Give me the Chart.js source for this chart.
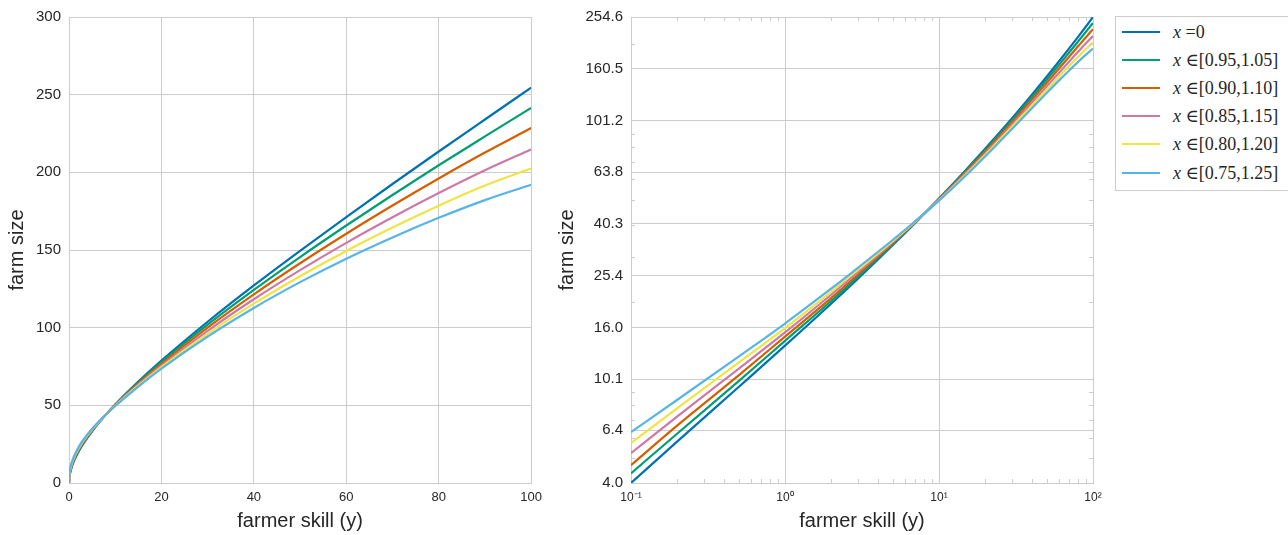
<!DOCTYPE html>
<html>
<head>
<meta charset="utf-8">
<script src="https://cdn.jsdelivr.net/npm/chart.js@4.4.0/dist/chart.umd.min.js"></script>
<style>
html,body{margin:0;padding:0;background:#fff;width:1288px;height:535px;overflow:hidden;position:relative}
#c1{position:absolute;left:0;top:0}
#c2{position:absolute;left:545px;top:0}
#legend{position:absolute;left:1115px;top:16px;width:200px;height:175px;border:1px solid #cccccc;background:#fff;box-sizing:border-box;font-family:"Liberation Serif","DejaVu Serif",serif;font-size:18px;color:#262626}
#legend .row{position:absolute;left:0;height:20px;width:200px}
#legend .swatch{position:absolute;left:6px;top:9px;width:38px;height:2px}
#legend .txt{position:absolute;left:57px;top:0;line-height:20px;white-space:nowrap}
</style>
</head>
<body>
<canvas id="c1" width="549" height="535"></canvas>
<canvas id="c2" width="565" height="535"></canvas>
<div id="legend"></div>
<script>
// ---------- data ----------
const skill   = [0, 0.1, 0.2, 0.5, 1, 2, 3, 5, 7, 10, 15, 20, 30, 40, 50, 60, 70, 80, 90, 100];
const sizeX0  = [0, 4.0, 5.80, 9.41, 13.6, 19.80, 24.82, 33.28, 40.62, 50.5, 65.27, 78.8, 103.8, 127.2, 149.5, 171.2, 192.5, 213.4, 234.0, 254.5];
const size095 = [0, 4.36, 6.22, 9.91, 14.2, 20.31, 25.28, 33.58, 40.73, 50.32, 64.66, 77.78, 101.92, 124.31, 145.43, 165.75, 185.43, 204.54, 223.11, 241.5];
const size090 = [0, 4.69, 6.68, 10.43, 14.75, 20.84, 25.76, 33.88, 40.85, 50.14, 64.05, 76.78, 100.08, 121.48, 141.48, 160.47, 178.62, 196.04, 212.73, 228.5];
const size085 = [0, 5.22, 7.24, 11.07, 15.3, 21.46, 26.31, 34.24, 40.99, 49.93, 63.35, 75.64, 97.99, 118.29, 137.03, 154.58, 171.05, 186.65, 201.31, 214.7];
const size080 = [0, 5.71, 7.80, 11.69, 15.9, 22.05, 26.83, 34.56, 41.11, 49.75, 62.72, 74.61, 96.13, 115.46, 133.11, 149.40, 164.45, 178.50, 191.47, 202.5];
const size075 = [0, 6.3, 8.40, 12.34, 16.57, 22.65, 27.36, 34.89, 41.23, 49.56, 62.1, 73.6, 94.3, 112.7, 129.3, 144.4, 158.1, 170.7, 182.1, 192.0];

const seriesLabels = ['x =0', 'x ∈[0.95,1.05]', 'x ∈[0.90,1.10]', 'x ∈[0.85,1.15]', 'x ∈[0.80,1.20]', 'x ∈[0.75,1.25]'];
const seriesValues = [sizeX0, size095, size090, size085, size080, size075];
const seriesColors = ['#0072B2', '#009E73', '#D55E00', '#CC79A7', '#F0E442', '#56B4E9'];

// tick labels
const linXTicks = [0, 20, 40, 60, 80, 100];
const linYTicks = [0, 50, 100, 150, 200, 250, 300];
const logXTicks = [0.1, 1, 10, 100];
const logXLabels = ['10⁻¹', '10⁰', '10¹', '10²'];
const logYLabels = ['4.0', '6.4', '10.1', '16.0', '25.4', '40.3', '63.8', '101.2', '160.5', '254.6'];
const logYTicks = logYLabels.map(Number);
const logXMinor = [0.2,0.3,0.4,0.5,0.6,0.7,0.8,0.9,2,3,4,5,6,7,8,9,20,30,40,50,60,70,80,90];
const logYMinor = [5,6,7,8,9,20,30,40,50,60,70,80,90,200];

const xTitle = 'farmer skill (y)';
const yTitle = 'farm size';

// ---------- styling ----------
const TXT = '#262626';
const GRID = '#cccccc';
const SANS = '"Liberation Sans", Arial, Helvetica, sans-serif';

function makeDatasets(logMode) {
  return seriesValues.map((vals, i) => ({
    label: seriesLabels[i],
    data: skill.map((s, k) => ({x: s, y: vals[k]})).filter(p => !logMode || p.x > 0),
    borderColor: seriesColors[i],
    backgroundColor: seriesColors[i],
    borderWidth: 2.2,
    pointRadius: 0,
    fill: false,
    cubicInterpolationMode: 'monotone',
    order: seriesValues.length - i
  }));
}

const minorTicks = {
  id: 'minorTicks',
  afterDraw(chart, args, opts) {
    if (!opts || !opts.x) return;
    const {ctx, chartArea: a, scales: {x, y}} = chart;
    ctx.save();
    ctx.strokeStyle = GRID;
    ctx.lineWidth = 1;
    ctx.beginPath();
    opts.x.forEach(v => {
      const px = Math.round(x.getPixelForValue(v)) + 0.5;
      ctx.moveTo(px, a.bottom); ctx.lineTo(px, a.bottom - 4);
      ctx.moveTo(px, a.top); ctx.lineTo(px, a.top + 4);
    });
    opts.y.forEach(v => {
      const py = Math.round(y.getPixelForValue(v)) + 0.5;
      ctx.moveTo(a.left, py); ctx.lineTo(a.left + 4, py);
      ctx.moveTo(a.right, py); ctx.lineTo(a.right - 4, py);
    });
    ctx.stroke();
    ctx.restore();
  }
};

function baseScaleX(extra) {
  return Object.assign({
    grid: {color: GRID, lineWidth: 1, drawTicks: false},
    border: {display: true, color: GRID, width: 1},
    title: {display: true, text: xTitle, color: TXT, font: {family: SANS, size: 20}, padding: {top: 0, bottom: 2}},
    afterFit: s => { s.height = 52; }
  }, extra);
}
function baseScaleY(width, titlePad, extra) {
  return Object.assign({
    grid: {color: GRID, lineWidth: 1, drawTicks: false},
    border: {display: true, color: GRID, width: 1},
    title: {display: true, text: yTitle, color: TXT, font: {family: SANS, size: 20}, padding: {top: titlePad, bottom: 0}},
    afterFit: s => { s.width = width; }
  }, extra);
}

Chart.defaults.font.family = SANS;
Chart.defaults.color = TXT;

// ---------- left chart: linear ----------
new Chart(document.getElementById('c1'), {
  type: 'line',
  data: {datasets: makeDatasets(false)},
  options: {
    responsive: false, animation: false, devicePixelRatio: 1,
    layout: {padding: {top: 16, right: 10, left: 0, bottom: 0}},
    plugins: {legend: {display: false}, tooltip: {enabled: false}},
    scales: {
      x: baseScaleX({
        type: 'linear', min: 0, max: 100,
        afterBuildTicks: s => { s.ticks = linXTicks.map(v => ({value: v})); },
        ticks: {color: TXT, font: {size: 13}, padding: 7, maxRotation: 0, autoSkip: false}
      }),
      y: baseScaleY(69, 5, {
        type: 'linear', min: 0, max: 300,
        afterBuildTicks: s => { s.ticks = linYTicks.map(v => ({value: v})); },
        ticks: {color: TXT, font: {size: 15}, padding: 8, autoSkip: false}
      })
    }
  }
});

// ---------- right chart: log-log ----------
new Chart(document.getElementById('c2'), {
  type: 'line',
  data: {datasets: makeDatasets(true)},
  plugins: [minorTicks],
  options: {
    responsive: false, animation: false, devicePixelRatio: 1,
    layout: {padding: {top: 16, right: 17, left: 0, bottom: 0}},
    plugins: {legend: {display: false}, tooltip: {enabled: false}, minorTicks: {x: logXMinor, y: logYMinor}},
    scales: {
      x: baseScaleX({
        type: 'logarithmic', min: 0.1, max: 100,
        afterBuildTicks: s => { s.ticks = logXTicks.map(v => ({value: v})); },
        ticks: {color: TXT, font: {size: 12}, padding: 7, maxRotation: 0, autoSkip: false,
                callback: (v, i) => logXLabels[i]}
      }),
      y: baseScaleY(86, 10, {
        type: 'logarithmic', min: 4.0, max: 254.6,
        afterBuildTicks: s => { s.ticks = logYTicks.map(v => ({value: v})); },
        ticks: {color: TXT, font: {size: 15}, padding: 8, autoSkip: false,
                callback: (v, i) => logYLabels[i]}
      })
    }
  }
});

// ---------- legend (HTML, built from the series arrays) ----------
const leg = document.getElementById('legend');
seriesLabels.forEach((lab, i) => {
  const row = document.createElement('div');
  row.className = 'row';
  row.style.top = (4.5 + i * 28.2) + 'px';
  const sw = document.createElement('div');
  sw.className = 'swatch';
  sw.style.background = seriesColors[i];
  const t = document.createElement('div');
  t.className = 'txt';
  const it = document.createElement('i');
  it.textContent = lab.charAt(0);
  t.appendChild(it);
  t.appendChild(document.createTextNode(lab.slice(1)));
  row.appendChild(sw);
  row.appendChild(t);
  leg.appendChild(row);
});
</script>
</body>
</html>
